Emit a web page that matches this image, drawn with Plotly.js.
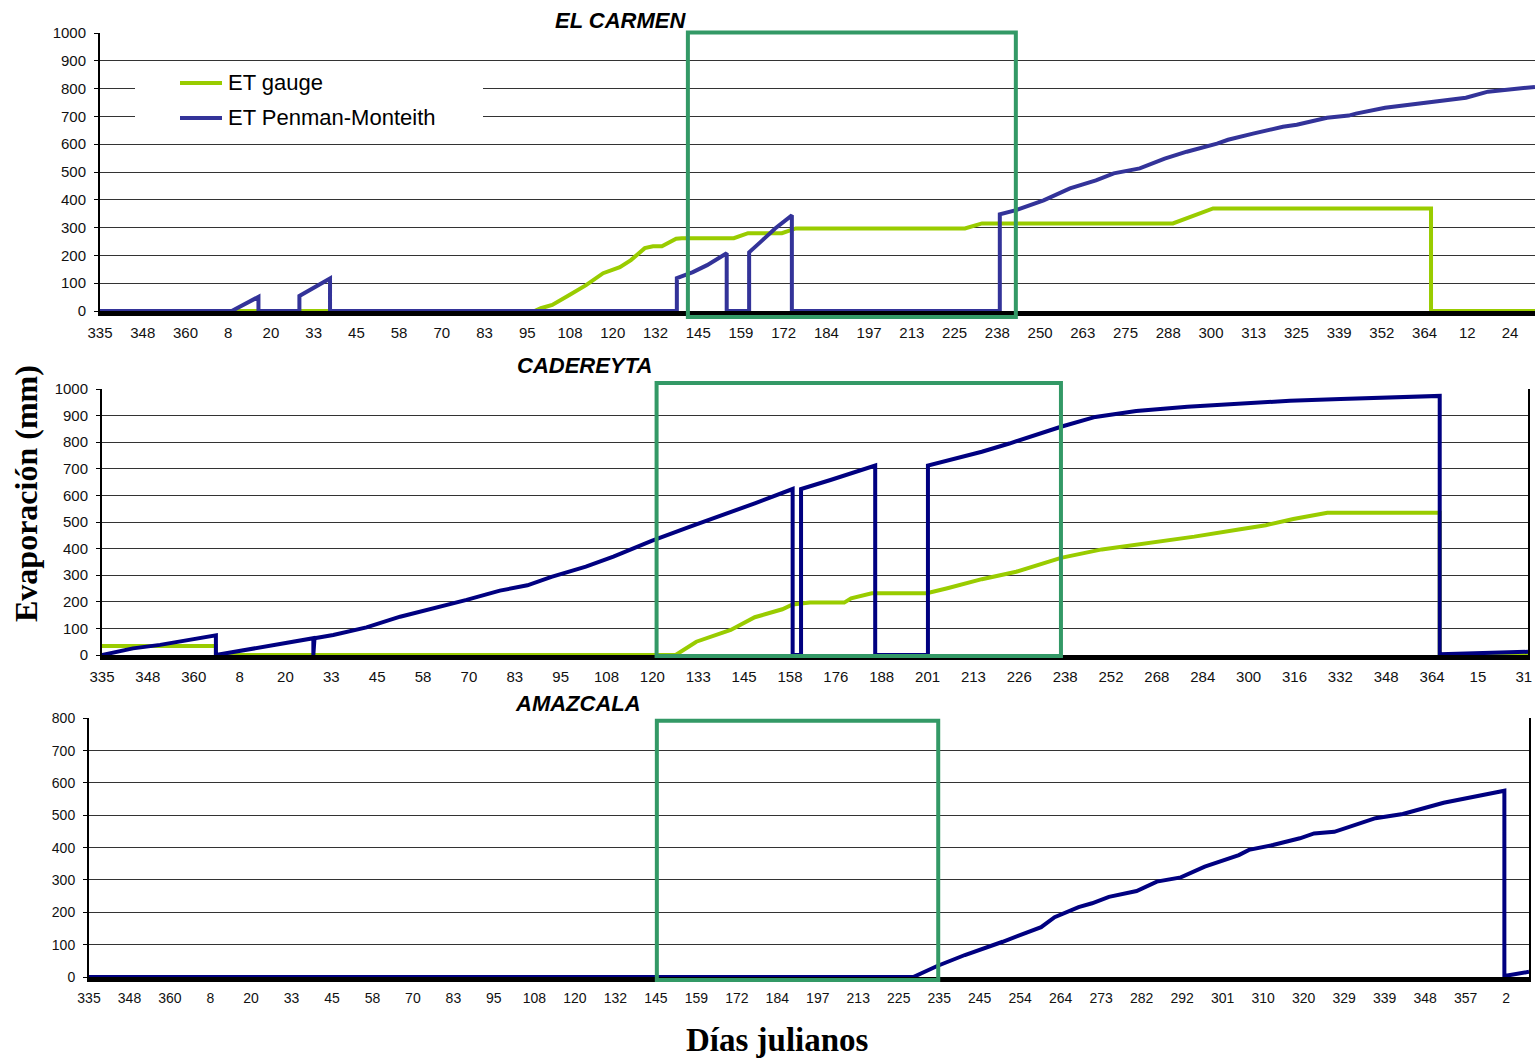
<!DOCTYPE html>
<html>
<head>
<meta charset="utf-8">
<script src="https://cdn.plot.ly/plotly-3.0.1.min.js"></script>
<style>
  html, body { margin: 0; padding: 0; background: #ffffff; }
  #chart { width: 1535px; height: 1058px; }
</style>
</head>
<body>
<div id="chart"></div>
<script>
// Cumulative evapotranspiration (mm) at three stations.
// x = daily record number of the series; the axis labels give the Julian day
// every 12 records.
const seriesNames = ['ET gauge', 'ET Penman-Monteith'];
const stationNames = ['EL CARMEN', 'CADEREYTA', 'AMAZCALA'];
const RECORDS_PER_LABEL = 12;

const carmenDays = ['335','348','360','8','20','33','45','58','70','83','95','108','120','132','145','159','172','184','197','213','225','238','250','263','275','288','300','313','325','339','352','364','12','24'];
const cadereytaDays = ['335','348','360','8','20','33','45','58','70','83','95','108','120','133','145','158','176','188','201','213','226','238','252','268','284','300','316','332','348','364','15','31'];
const amazcalaDays = ['335','348','360','8','20','33','45','58','70','83','95','108','120','132','145','159','172','184','197','213','225','235','245','254','264','273','282','292','301','310','320','329','339','348','357','2'];

// Last record shown on each x axis
const carmenLastRecord = 403;
const cadereytaLastRecord = 373.1;
const amazcalaLastRecord = 426.8;

// EL CARMEN
const carmenGaugeRec = [0, 122, 123.8, 127, 131.7, 136.5, 141.3, 146, 149.1, 153, 155.3, 157.8, 161.8, 163.4, 178, 182, 191.5, 195.4, 242.9, 247.7, 301.3, 312.6, 373.8, 373.8, 403];
const carmenGaugeMm  = [0, 0, 10, 22, 57, 93, 136, 158, 183, 226, 233, 233, 260, 262, 262, 280, 280, 297, 297, 315, 315, 369, 369, 0, 0];
const carmenPmRec = [0, 37, 44.5, 44.5, 56, 56, 64.6, 64.6, 162, 162, 166.5, 170.5, 176, 176, 182.3, 182.3, 186, 189.6, 194.3, 194.3, 252.7, 252.7, 257, 265, 272.4, 279.7, 284.7, 292, 299, 305.2, 313.7, 316.8, 323.8, 332.2, 336.1, 344.6, 350.7, 352.7, 360.9, 373.2, 383.6, 389.8, 396, 403];
const carmenPmMm  = [0, 0, 51, 0, 0, 54, 117, 0, 0, 118, 140, 165, 208, 0, 0, 211, 254, 297, 344, 0, 0, 348, 362, 398, 441, 470, 495, 513, 548, 573, 602, 616, 638, 663, 670, 695, 703, 710, 731, 749, 767, 789, 796, 806];

// CADEREYTA
const cadereytaGaugeRec = [0, 29.8, 29.8, 150.1, 155.5, 161.8, 164.5, 170.8, 178, 180.7, 185.2, 194.2, 196, 201.4, 215.8, 221.2, 230.2, 239.2, 245.4, 250.9, 261.6, 275.1, 285.8, 297.4, 304.5, 311.7, 320.6, 350, 350, 373.1];
const cadereytaGaugeMm  = [34, 34, 0, 0, 50, 81, 94, 142, 172, 190, 197, 197, 213, 232, 232, 251, 285, 313, 340, 365, 397, 422, 445, 472, 488, 511, 535, 535, 0, 0];
const cadereytaPmRec = [0, 8.1, 15.2, 22.2, 29.8, 29.8, 39.6, 47.4, 55.3, 55.3, 55.6, 60.5, 69.2, 78, 86.7, 95.4, 104.1, 111.3, 117.6, 126.6, 133.8, 143.8, 153.7, 161.8, 170.8, 180.7, 180.7, 182.9, 182.9, 190.6, 196.9, 202.3, 202.3, 216.1, 216.1, 221.2, 230.2, 237.4, 245.4, 250.9, 259.9, 270.6, 284, 297.4, 310.8, 324.1, 337.6, 350, 350, 373.1];
const cadereytaPmMm  = [0, 25, 38, 56, 74, 0, 25, 44, 63, 0, 63, 75, 104, 144, 175, 207, 242, 262, 294, 332, 370, 429, 482, 523, 570, 624, 0, 0, 624, 658, 685, 712, 0, 0, 712, 730, 764, 795, 833, 858, 895, 917, 933, 946, 956, 962, 969, 974, 3, 12];

// AMAZCALA
const amazcalaPmRec = [0, 244.3, 251.4, 259.6, 270.8, 277.1, 282.2, 286.2, 293.3, 297.3, 302.3, 310.5, 316.5, 323.6, 330.7, 340.8, 343.8, 350.9, 358.9, 363.1, 369.1, 381.3, 389.4, 401.5, 409.6, 419.5, 419.5, 426.8];
const amazcalaPmMm  = [0, 0, 34, 68, 109, 135, 154, 185, 216, 228, 248, 266, 295, 308, 341, 377, 393, 408, 429, 444, 449, 491, 504, 539, 556, 576, 3, 16];

// Highlighted period on each panel, in record numbers
const carmenWindow = [165.1, 257.2];
const cadereytaWindow = [145.1, 250.9];
const amazcalaWindow = [168.3, 251.7];

// ---------------------------------------------------------------------------
const W = 1535, H = 1058;
const fx = px => px / W;
const fy = py => 1 - py / H;

const GREEN = '#99cc00';
const INDIGO = '#333399';
const NAVY = '#000080';
const BOX = '#339966';
const SANS = 'Liberation Sans, Arial, sans-serif';
const SERIF = 'Liberation Serif, Times New Roman, serif';

function line(x, y, color, xa, ya) {
  return {
    type: 'scatter', mode: 'lines', x: x, y: y,
    xaxis: xa, yaxis: ya, showlegend: false, hoverinfo: 'skip',
    line: { color: color, width: 4 }
  };
}

const traces = [
  line(carmenGaugeRec, carmenGaugeMm, GREEN, 'x', 'y'),
  line(carmenPmRec, carmenPmMm, INDIGO, 'x', 'y'),
  line(cadereytaGaugeRec, cadereytaGaugeMm, GREEN, 'x2', 'y2'),
  line(cadereytaPmRec, cadereytaPmMm, NAVY, 'x2', 'y2'),
  line(amazcalaPmRec, amazcalaPmMm, NAVY, 'x3', 'y3')
];
traces[0].name = seriesNames[0];
traces[1].name = seriesNames[1];

function xAxis(left, right, labels, last, anchor, size) {
  return {
    domain: [fx(left), fx(right)], anchor: anchor, range: [0, last],
    tickmode: 'array',
    tickvals: labels.map((_, i) => i * RECORDS_PER_LABEL),
    ticktext: labels,
    showgrid: false, zeroline: false,
    showline: true, linecolor: '#000000', linewidth: 5,
    ticks: '', ticklabelstandoff: 4,
    tickfont: { family: SANS, size: size, color: '#111111' },
    fixedrange: true
  };
}

function yAxis(top, bottom, max, anchor, mirror, size) {
  return {
    domain: [fy(bottom), fy(top)], anchor: anchor, range: [0, max],
    tick0: 0, dtick: 100,
    showgrid: true, gridcolor: '#333333', gridwidth: 1, zeroline: false,
    showline: true, linecolor: '#000000', linewidth: 2, mirror: mirror,
    ticks: 'outside', ticklen: 4, tickwidth: 1, tickcolor: '#000000',
    ticklabelstandoff: 5,
    tickfont: { family: SANS, size: size, color: '#111111' },
    fixedrange: true
  };
}

function windowBox(win, xref, yref, y0, y1) {
  return {
    type: 'rect', xref: xref, yref: yref, x0: win[0], x1: win[1], y0: y0, y1: y1,
    line: { color: BOX, width: 4 }, fillcolor: 'rgba(0,0,0,0)', layer: 'above'
  };
}

function title(text, x, y) {
  return {
    text: text, xref: 'paper', yref: 'paper', x: fx(x), y: fy(y),
    xanchor: 'center', yanchor: 'middle', showarrow: false,
    font: { family: SANS, size: 22, color: '#000000', weight: 'bold', style: 'italic' }
  };
}

// Legend panel on the first chart
const legendShapes = [
  { type: 'rect', xref: 'paper', yref: 'paper', x0: fx(135), x1: fx(483), y0: fy(138), y1: fy(66),
    fillcolor: '#ffffff', line: { width: 0 }, layer: 'above' },
  { type: 'line', xref: 'paper', yref: 'paper', x0: fx(180), x1: fx(222), y0: fy(83), y1: fy(83),
    line: { color: GREEN, width: 4 }, layer: 'above' },
  { type: 'line', xref: 'paper', yref: 'paper', x0: fx(180), x1: fx(222), y0: fy(118), y1: fy(118),
    line: { color: INDIGO, width: 4 }, layer: 'above' }
];
const legendTexts = seriesNames.map((name, i) => ({
  text: name, xref: 'paper', yref: 'paper', x: fx(226), y: fy(i === 0 ? 83 : 118),
  xanchor: 'left', yanchor: 'middle', showarrow: false,
  font: { family: SANS, size: 22, color: '#000000' }
}));

const layout = {
  width: W, height: H,
  margin: { l: 0, r: 0, t: 0, b: 0 },
  paper_bgcolor: '#ffffff', plot_bgcolor: '#ffffff',
  showlegend: false,
  xaxis: xAxis(100, 1535, carmenDays, carmenLastRecord, 'y', 15),
  yaxis: yAxis(33, 311, 1000, 'x', false, 15),
  xaxis2: xAxis(102, 1528, cadereytaDays, cadereytaLastRecord, 'y2', 15),
  yaxis2: yAxis(389, 655, 1000, 'x2', true, 15),
  xaxis3: xAxis(89, 1529, amazcalaDays, amazcalaLastRecord, 'y3', 14),
  yaxis3: yAxis(718.3, 977, 800, 'x3', true, 14),
  shapes: [
    windowBox(carmenWindow, 'x', 'y domain', -0.0216, 1.0018),
    windowBox(cadereytaWindow, 'x2', 'y2 domain', -0.0038, 1.0226),
    windowBox(amazcalaWindow, 'x3', 'y3 domain', -0.0116, 0.9907)
  ].concat(legendShapes),
  annotations: [
    title(stationNames[0], 620.5, 20.5),
    title(stationNames[1], 584, 365),
    title(stationNames[2], 578, 703),
    {
      text: 'Evaporación (mm)', xref: 'paper', yref: 'paper', x: fx(26), y: fy(494),
      xanchor: 'center', yanchor: 'middle', textangle: -90, showarrow: false,
      font: { family: SERIF, size: 32, color: '#000000', weight: 'bold' }
    },
    {
      text: 'Días julianos', xref: 'paper', yref: 'paper', x: fx(777), y: fy(1040),
      xanchor: 'center', yanchor: 'middle', showarrow: false,
      font: { family: SERIF, size: 33, color: '#000000', weight: 'bold' }
    }
  ].concat(legendTexts)
};

Plotly.newPlot('chart', traces, layout, { staticPlot: true, displayModeBar: false });
</script>
</body>
</html>
